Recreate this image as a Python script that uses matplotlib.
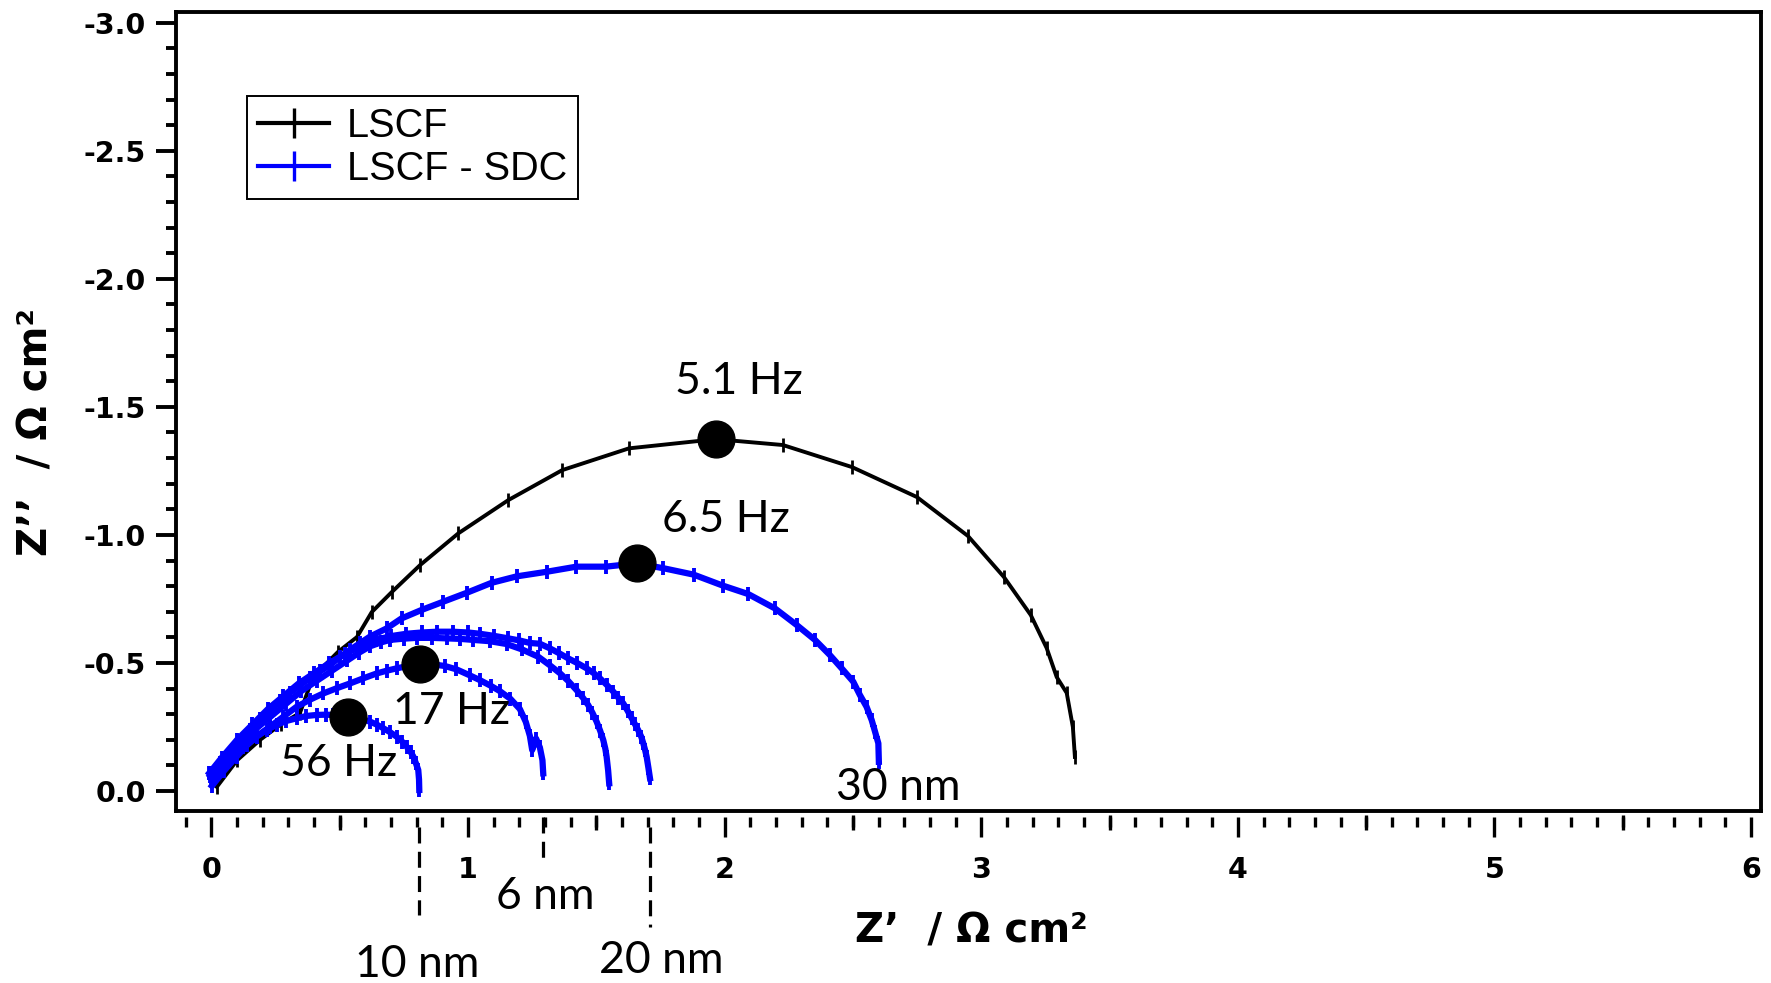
import numpy as np
import matplotlib
matplotlib.use("Agg")
import matplotlib.pyplot as plt
from matplotlib.lines import Line2D
from matplotlib.ticker import MultipleLocator, FixedLocator, NullFormatter

plt.rcParams['axes.unicode_minus'] = False

# ---- impedance data, Z' and Z'' in ohm cm^2 ----
lscf_x = [0.021, 0.10, 0.19, 0.27, 0.345, 0.396, 0.493, 0.567, 0.625, 0.703,
          0.813, 0.962, 1.157, 1.367, 1.627, 1.966, 2.227, 2.496, 2.749, 2.948,
          3.088, 3.193, 3.255, 3.294, 3.333, 3.357, 3.365]
lscf_y = [-0.016, -0.12, -0.20, -0.26, -0.305, -0.445, -0.543, -0.601, -0.699, -0.777,
          -0.882, -1.006, -1.136, -1.253, -1.338, -1.374, -1.351, -1.265, -1.148, -0.996,
          -0.836, -0.687, -0.558, -0.445, -0.383, -0.250, -0.133]

# LSCF - SDC, 10 nm
sdc_10nm_x = [0.002, 0.05, 0.098, 0.14, 0.176, 0.215, 0.254, 0.29, 0.332, 0.37,
              0.410, 0.445, 0.475, 0.531, 0.575, 0.618, 0.645, 0.670, 0.697, 0.722,
              0.743, 0.761, 0.776, 0.787, 0.797, 0.806, 0.809, 0.810]
sdc_10nm_y = [-0.02, -0.08, -0.134, -0.18, -0.212, -0.238, -0.258, -0.273, -0.284, -0.293,
              -0.297, -0.298, -0.297, -0.290, -0.283, -0.271, -0.259, -0.245, -0.229, -0.212,
              -0.193, -0.173, -0.153, -0.134, -0.108, -0.082, -0.045, -0.004]

# LSCF - SDC, 6 nm
sdc_6nm_x = [0.0, 0.02, 0.07, 0.124, 0.175, 0.228, 0.28, 0.332, 0.385, 0.436,
             0.49, 0.540, 0.592, 0.644, 0.684, 0.722, 0.77, 0.813, 0.86, 0.91,
             0.955, 1.006, 1.046, 1.09, 1.124, 1.165, 1.202, 1.225, 1.241, 1.25,
             1.265, 1.28, 1.29, 1.293]
sdc_6nm_y = [-0.05, -0.069, -0.125, -0.173, -0.213, -0.251, -0.29, -0.329, -0.357, -0.381,
             -0.402, -0.420, -0.44, -0.459, -0.47, -0.479, -0.489, -0.496, -0.495, -0.488,
             -0.475, -0.452, -0.433, -0.41, -0.390, -0.36, -0.32, -0.27, -0.215, -0.16,
             -0.205, -0.17, -0.12, -0.069]

# LSCF - SDC, arc ending near 1.55
sdc_c_x = [-0.005, 0.05, 0.11, 0.17, 0.23, 0.29, 0.35, 0.41, 0.47, 0.53,
           0.575, 0.618, 0.66, 0.696, 0.75, 0.800, 0.86, 0.917, 0.97, 1.020,
           1.085, 1.150, 1.21, 1.274, 1.32, 1.358, 1.39, 1.423, 1.447, 1.468,
           1.485, 1.501, 1.515, 1.527, 1.535, 1.540, 1.546, 1.550]
sdc_c_y = [-0.06, -0.12, -0.18, -0.24, -0.29, -0.34, -0.39, -0.43, -0.47, -0.51,
           -0.54, -0.565, -0.58, -0.59, -0.595, -0.598, -0.598, -0.596, -0.594, -0.590,
           -0.585, -0.574, -0.553, -0.524, -0.49, -0.460, -0.43, -0.394, -0.365, -0.336,
           -0.305, -0.271, -0.235, -0.199, -0.165, -0.134, -0.08, -0.030]

# LSCF - SDC, 20 nm
sdc_20nm_x = [-0.008, 0.04, 0.10, 0.16, 0.22, 0.28, 0.34, 0.40, 0.46, 0.52,
              0.58, 0.64, 0.70, 0.76, 0.82, 0.88, 0.94, 1.00, 1.046, 1.10,
              1.157, 1.20, 1.241, 1.28, 1.319, 1.355, 1.390, 1.425, 1.462, 1.49,
              1.514, 1.54, 1.566, 1.585, 1.605, 1.622, 1.638, 1.651, 1.663, 1.675,
              1.683, 1.690, 1.696, 1.703, 1.709]
sdc_20nm_y = [-0.07, -0.13, -0.20, -0.26, -0.32, -0.37, -0.42, -0.46, -0.50, -0.535,
              -0.565, -0.59, -0.605, -0.614, -0.619, -0.622, -0.622, -0.619, -0.614, -0.606,
              -0.596, -0.588, -0.578, -0.575, -0.557, -0.538, -0.518, -0.50, -0.479, -0.46,
              -0.440, -0.415, -0.388, -0.365, -0.342, -0.313, -0.284, -0.26, -0.238, -0.212,
              -0.186, -0.16, -0.134, -0.09, -0.050]

# LSCF - SDC, 30 nm
sdc_30nm_x = [-0.006, 0.035, 0.072, 0.11, 0.150, 0.19, 0.228, 0.267, 0.306, 0.345,
              0.384, 0.423, 0.462, 0.50, 0.540, 0.58, 0.618, 0.683, 0.741, 0.819,
              0.903, 0.995, 1.092, 1.189, 1.306, 1.422, 1.537, 1.657, 1.761, 1.879,
              1.993, 2.092, 2.196, 2.281, 2.352, 2.410, 2.456, 2.501, 2.527, 2.553,
              2.573, 2.586, 2.599, 2.601]
sdc_30nm_y = [-0.070, -0.11, -0.148, -0.195, -0.238, -0.28, -0.316, -0.35, -0.383, -0.413,
              -0.441, -0.467, -0.492, -0.522, -0.551, -0.578, -0.603, -0.635, -0.674, -0.707,
              -0.739, -0.774, -0.813, -0.838, -0.856, -0.876, -0.876, -0.889, -0.870, -0.845,
              -0.802, -0.769, -0.713, -0.648, -0.590, -0.531, -0.479, -0.427, -0.375, -0.329,
              -0.277, -0.232, -0.186, -0.114]

# summit frequencies
peak_x = [1.966, 1.657, 0.813, 0.531]
peak_y = [-1.374, -0.889, -0.496, -0.290]
peak_labels = ["5.1 Hz", "6.5 Hz", "17 Hz", "56 Hz"]

# ---- figure ----
fig = plt.figure(figsize=(17.71, 9.83), dpi=100)
ax = fig.add_axes([0.0991, 0.175, 0.8953, 0.8128])

ax.plot(lscf_x, lscf_y, color='black', lw=2.8, marker='|', ms=10, mew=2.0, zorder=2)
for xs, ys in [(sdc_30nm_x, sdc_30nm_y), (sdc_20nm_x, sdc_20nm_y), (sdc_c_x, sdc_c_y),
               (sdc_6nm_x, sdc_6nm_y), (sdc_10nm_x, sdc_10nm_y)]:
    ax.plot(xs, ys, color='#0000ff', lw=4.5, marker='|', ms=10.5, mew=2.8, zorder=3)

ax.plot(peak_x, peak_y, ls='none', marker='o', ms=26.5, color='black', zorder=5)

ann_font = dict(family='Lato', fontsize=32, color='black')
label_pos = [(2.056, -1.550), (2.005, -1.012), (0.935, -0.262), (0.497, -0.059)]
for txt, (tx, ty) in zip(peak_labels, label_pos):
    ax.text(tx, ty, txt, ha='center', va='baseline', zorder=6, **ann_font)

# thickness marks at the low-frequency end of each arc
ax.text(2.675, 0.035, "30 nm", ha='center', va='baseline', clip_on=False, **ann_font)
guides = [(sdc_10nm_x[-1], 0.141, 0.484, "10 nm", 0.802, 0.726),
          (sdc_6nm_x[-1], 0.101, 0.270, "6 nm", 1.300, 0.461),
          (sdc_20nm_x[-1], 0.141, 0.531, "20 nm", 1.751, 0.710)]
for gx, y0, y1, txt, tx, ty in guides:
    ax.plot([gx, gx], [y0, y1], color='black', lw=2.3, ls=(0, (5, 2.6)), clip_on=False)
    ax.text(tx, ty, txt, ha='center', va='baseline', clip_on=False, **ann_font)

# ---- axes ----
ax.set_xlim(-0.140, 6.039)
ax.set_ylim(0.078, -3.042)

for s in ['top', 'right', 'left']:
    ax.spines[s].set_linewidth(2.8)
ax.spines['bottom'].set_position(('outward', 4))
ax.spines['bottom'].set_visible(False)
ax.plot([0, 1], [0, 0], transform=ax.transAxes, color='black', lw=2.8,
        solid_capstyle='projecting', clip_on=False, zorder=10)

ax.xaxis.set_major_locator(MultipleLocator(1))
ax.xaxis.set_minor_locator(MultipleLocator(0.1))
ax.yaxis.set_major_locator(MultipleLocator(0.5))
ax.yaxis.set_minor_locator(MultipleLocator(0.1))
ax.tick_params(axis='x', which='major', direction='out', length=14.5, width=2.4,
               pad=14, labelsize=20.5)
ax.tick_params(axis='x', which='minor', direction='out', length=7.5, width=2.4)
ax.tick_params(axis='y', which='major', direction='out', length=14.5, width=2.8,
               pad=7, labelsize=20.5)
ax.tick_params(axis='y', which='minor', direction='out', length=7.5, width=2.8)
ax.tick_params(top=False, right=False, which='both')
for lab in ax.get_xticklabels() + ax.get_yticklabels():
    lab.set_fontweight('bold')

# half-unit ticks on Z'
sec = ax.secondary_xaxis(-4 / 799)
sec.xaxis.set_major_locator(FixedLocator([0.5, 1.5, 2.5, 3.5, 4.5, 5.5]))
sec.xaxis.set_major_formatter(NullFormatter())
sec.tick_params(direction='out', length=11, width=2.4)
for s in sec.spines.values():
    s.set_visible(False)

fig.text(971 / 1771, 1 - 932 / 983, "Z\u2019  / \u03a9 cm\u00b2", ha='center', va='center',
         fontsize=29, fontweight='bold')
fig.text(36.5 / 1771, 1 - 432 / 983, "Z\u2019\u2019  / \u03a9 cm\u00b2", ha='center', va='center',
         rotation=90, fontsize=29, fontweight='bold')

handles = [Line2D([], [], color='black', lw=3.0, marker='|', ms=21, mew=2.4),
           Line2D([], [], color='#0000ff', lw=3.0, marker='|', ms=21, mew=2.4)]
leg = ax.legend(handles, ["LSCF", "LSCF - SDC"], loc='upper left',
                bbox_to_anchor=(0.045, 0.895), borderaxespad=0, fancybox=False,
                framealpha=1, edgecolor='black', handlelength=1.8, handletextpad=0.45,
                labelspacing=0.12, borderpad=0.28, prop=dict(family='Liberation Sans', size=28.5))
leg.get_frame().set_linewidth(1.4)

fig.savefig("out.png", dpi=100)
